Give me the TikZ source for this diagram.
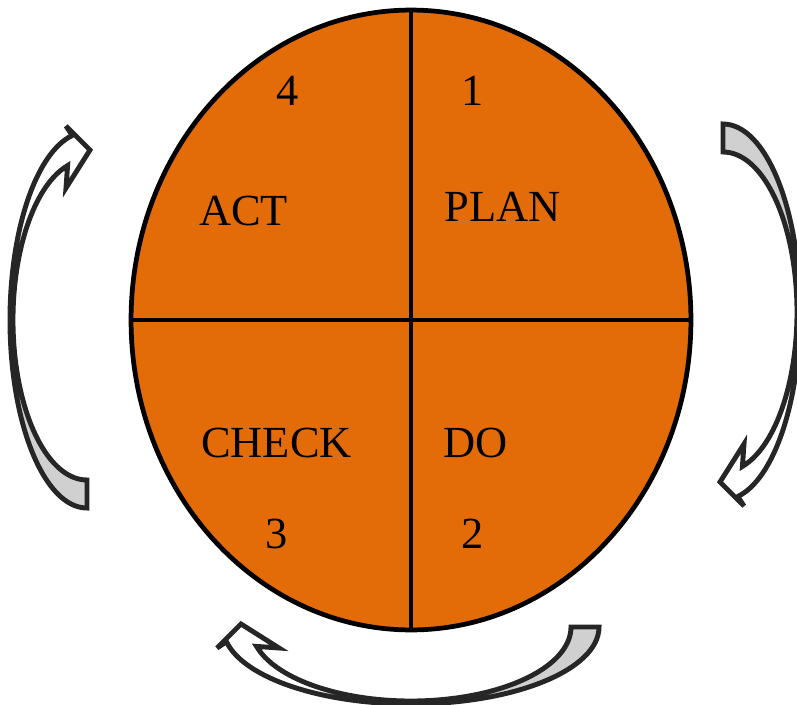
\documentclass[tikz,border=0pt]{standalone}
\usepackage{fontspec}
\setmainfont{Liberation Serif}
\usetikzlibrary{shapes.geometric}
\definecolor{pdcaorange}{HTML}{E36C09}
\definecolor{arrowline}{HTML}{262626}
\definecolor{arrowfold}{HTML}{D0D0D0}

% outline of one curved arrow: bulges to the left, tail at the bottom, head at the top
\newcommand{\turnpath}{%
  (-324,-188) arc[start angle=270, end angle=101, x radius=77, y radius=188]
  -- (-345,194) -- (-321,170) -- (-345,132)
  -- (-343.4,154.4) arc[start angle=105.2, end angle=270, x radius=74, y radius=160]
  -- cycle}

\begin{document}
\begin{tikzpicture}[
  x=0.02cm, y=0.02cm,
  wheel/.style={ellipse, draw=black, fill=pdcaorange, line width=2.7pt,
    minimum width=11.2cm, minimum height=12.4cm, inner sep=0pt, outer sep=0pt},
  divider/.style={draw=black, line width=2.7pt},
  quarter/.style={font=\fontsize{25.3}{30}\selectfont, text=black, inner sep=0pt},
  turnarrow/.pic={
    \fill[white] \turnpath;
    % back face of the arrow, below the turning point
    \begin{scope}
      \clip (-420,0) rectangle (-300,-200);
      \fill[arrowfold] \turnpath;
    \end{scope}
    \draw[arrowline, line width=2.8pt, line join=miter] \turnpath;
  },
]
\useasboundingbox (-411,-384) rectangle (386,320);

% the cycle
\node[wheel] (pdca) at (0,0) {};
\draw[divider] (pdca.north) -- (pdca.south);
\draw[divider] (pdca.west) -- (pdca.east);

% quarters
\node[quarter] (plan)  at (91.5,113)   {PLAN};
\node[quarter] (do)    at (64.5,-123)  {DO};
\node[quarter] (check) at (-134.5,-123) {CHECK};
\node[quarter] (act)   at (-167.5,109) {ACT};
\node[quarter] (num1) at (62,229)     {1};
\node[quarter] (num2) at (61.5,-213.5) {2};
\node[quarter] (num3) at (-134,-213.5) {3};
\node[quarter] (num4) at (-123.5,229) {4};

% arrows round the cycle
\pic at (0,0) {turnarrow};                 % check -> act
\pic[rotate=180] at (-12,8) {turnarrow};   % plan -> do
\pic[rotate=90] at (0,17) {turnarrow};     % do -> check
\end{tikzpicture}
\end{document}
